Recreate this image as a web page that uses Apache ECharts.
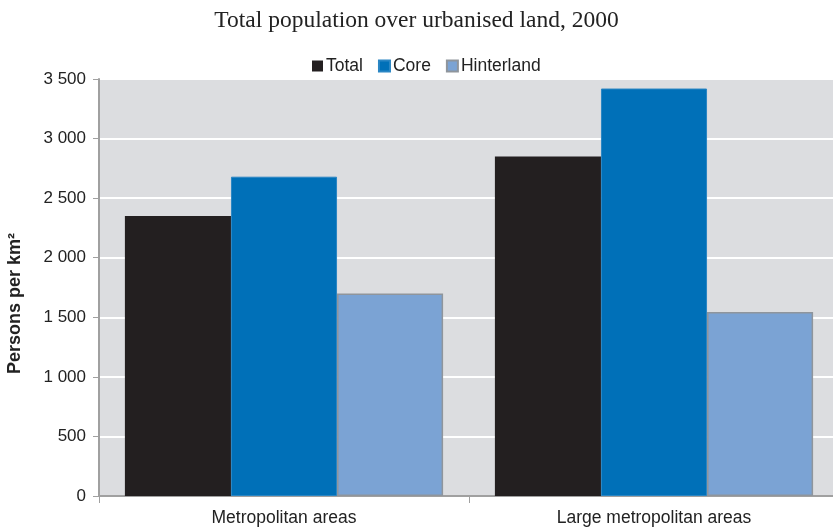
<!DOCTYPE html>
<html><head><meta charset="utf-8">
<script src="https://cdn.jsdelivr.net/npm/echarts@6/dist/echarts.min.js"></script>
<style>html,body{margin:0;padding:0;background:#fff}#c{width:833px;height:531px}</style>
</head><body><div id="c"></div>
<script>
const categories = ["Metropolitan areas", "Large metropolitan areas"];
const seriesNames = ["Total", "Core", "Hinterland"];
const totalValues = [2350, 2850];
const coreValues = [2680, 3420];
const hinterlandValues = [1700, 1545];
const yTicks = [0, 500, 1000, 1500, 2000, 2500, 3000, 3500];

const chart = echarts.init(document.getElementById('c'), null, {renderer: 'canvas'});
const fmt = v => String(v).replace(/\B(?=(\d{3})+(?!\d))/g, ' ');
chart.setOption({
  animation: false,
  backgroundColor: '#ffffff',
  title: {
    text: 'Total population over urbanised land, 2000',
    left: 'center', top: 4,
    textStyle: {fontFamily: 'Liberation Serif', fontWeight: 'normal', fontSize: 23.5, color: '#222'}
  },
  legend: {
    data: seriesNames, top: 52, left: 307,
    itemWidth: 11, itemHeight: 11, itemGap: 15,
    icon: 'rect',
    textStyle: {fontFamily: 'Liberation Sans', fontSize: 17.5, color: '#222', padding: [0, 0, 0, -2]}
  },
  grid: {left: 99, width: 740, top: 79, bottom: 35, containLabel: false, outerBoundsMode: 'none',
         show: true, backgroundColor: '#dcdde0', borderWidth: 0},
  xAxis: {
    type: 'category', data: categories,
    axisLine: {lineStyle: {color: '#a0a0a0', width: 2}},
    axisTick: {show: true, length: 7, lineStyle: {color: '#a0a0a0'}},
    axisLabel: {fontFamily: 'Liberation Sans', fontSize: 17.5, color: '#222', margin: 13}
  },
  yAxis: {
    type: 'value', min: yTicks[0], max: yTicks[yTicks.length - 1], interval: 500,
    name: 'Persons per km²', nameLocation: 'middle', nameGap: 75,
    nameTextStyle: {fontFamily: 'Liberation Sans', fontWeight: 'bold', fontSize: 18, color: '#222', padding: [0, 32, 0, 0]},
    axisLine: {show: true, lineStyle: {color: '#a0a0a0', width: 2}},
    axisTick: {show: true, length: 6, lineStyle: {color: '#a0a0a0'}},
    axisLabel: {fontFamily: 'Liberation Sans', fontSize: 17, color: '#222', margin: 13, formatter: fmt},
    splitLine: {lineStyle: {color: '#ffffff', width: 2}}
  },
  series: [
    {name: seriesNames[0], type: 'bar', data: totalValues, barGap: '0%', barCategoryGap: '14%',
     itemStyle: {color: '#231f20'}},
    {name: seriesNames[1], type: 'bar', data: coreValues,
     itemStyle: {color: '#0070b8', borderColor: '#2a86c4', borderWidth: 1}},
    {name: seriesNames[2], type: 'bar', data: hinterlandValues,
     itemStyle: {color: '#7ba3d4', borderColor: '#8f959c', borderWidth: 1.5}}
  ]
});
</script></body></html>
